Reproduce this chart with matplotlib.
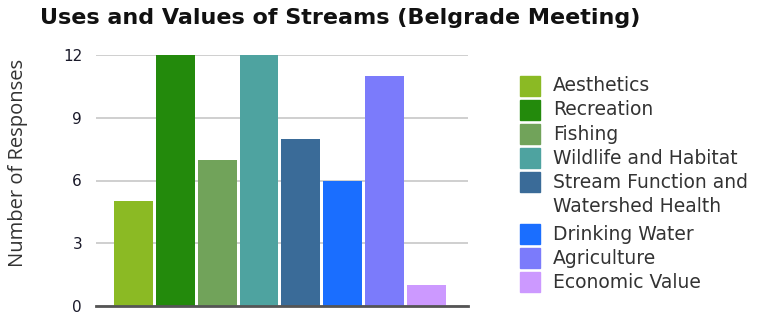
import matplotlib
matplotlib.use("Agg")
import matplotlib.pyplot as plt
from matplotlib.patches import Rectangle

categories = ["Aesthetics", "Recreation", "Fishing", "Wildlife and Habitat",
              "Stream Function and\nWatershed Health", "Drinking Water",
              "Agriculture", "Economic Value"]
values = [5, 12, 7, 12, 8, 6, 11, 1]
colors = ["#8bba24", "#238a0c", "#71a35a", "#4ea3a0", "#3a6b98",
          "#1a6eff", "#7b7bfb", "#cc99ff"]
yticks = [0, 3, 6, 9, 12]

W, H = 776, 314
fig = plt.figure(figsize=(W / 100, H / 100), dpi=100)
ax = fig.add_axes([96 / W, 8 / H, 372 / W, 251 / H])

x = list(range(len(values)))
ax.bar(x, values, width=0.93, color=colors, zorder=3)
ax.set_xlim(-0.9, 8.0)
ax.set_ylim(0, 12)
ax.set_yticks(yticks)
ax.set_yticklabels([str(t) for t in yticks], fontsize=11, color="#1a1a2a")
ax.set_xticks([])
ax.tick_params(axis="y", length=0, pad=10)
for s in ["top", "right", "left"]:
    ax.spines[s].set_visible(False)
ax.spines["bottom"].set_color("#555555")
ax.spines["bottom"].set_linewidth(2)
ax.spines["bottom"].set_zorder(4)
ax.yaxis.grid(True, color="#cccccc", linewidth=1.3, zorder=0)
ax.set_ylabel("Number of Responses", fontsize=14.5, color="#333333",
              family="Open Sans")
ax.yaxis.set_label_coords((28 - 96) / 372, (314 - 163 - 8) / 251)

fig.text(340 / W, 1 - 18 / H, "Uses and Values of Streams (Belgrade Meeting)",
         ha="center", va="center", fontsize=16, fontweight="bold", color="#111111")

# legend
rows = [86, 110, 134, 158, 182, 234, 258, 282]
for cat, col, yc in zip(categories, colors, rows):
    fig.patches.append(Rectangle((520 / W, 1 - (yc + 10) / H), 20 / W, 20 / H,
                                 transform=fig.transFigure, color=col))
    for i, line in enumerate(cat.split("\n")):
        fig.text(553 / W, 1 - (yc + 25 * i) / H, line, ha="left", va="center",
                 fontsize=13.5, color="#333333")

fig.savefig("out.png", dpi=100)
